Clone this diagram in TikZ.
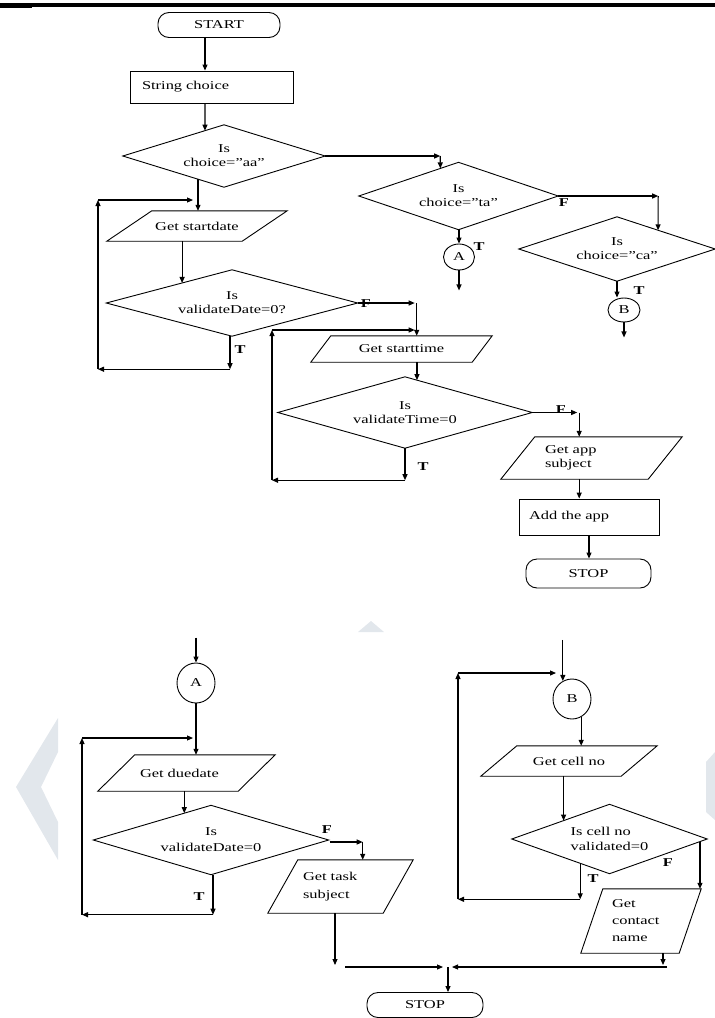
\documentclass[tikz,border=0pt]{standalone}
\usepackage{fontspec}
\setmainfont[FakeStretch=1.37]{Liberation Serif}
\usetikzlibrary{shapes.geometric,arrows.meta,calc}
\definecolor{wm}{RGB}{226,231,236}
\newcommand\drawpara[2]{\draw[line width=0.9pt] ([xshift=#2pt]#1.north west) -- (#1.north east) -- ([xshift=-#2pt]#1.south east) -- (#1.south west) -- cycle;}
\newcommand\drawdia[1]{\draw[line width=0.9pt] (#1.north) -- (#1.east) -- (#1.south) -- (#1.west) -- cycle;}
\begin{document}
\begin{tikzpicture}[x=1pt,y=-1pt,
  every node/.style={font=\fontsize{12}{14}\selectfont},
  base/.style={draw, line width=0.9pt, inner sep=0pt},
  dia/.style={rectangle, inner sep=0pt, align=center},
  term/.style={base, rectangle, rounded corners=11pt},
  proc/.style={base, rectangle},
  ell/.style={base, ellipse},
  iobox/.style={rectangle, inner sep=0pt},
  arr/.style={-{Triangle[length=6pt,width=5pt]}, line width=1.1pt},
  lab/.style={font=\fontsize{12}{14}\selectfont\bfseries, inner sep=0pt},
]
\useasboundingbox (0,0) rectangle (715,1018);

% watermark remnants
\fill[wm] (358,632) -- (371,621) -- (384,632) -- cycle;
\fill[wm] (58,718) -- (16,787) -- (58,860) -- (58,822) -- (41,787) -- (58,752) -- cycle;
\fill[wm] (706,762) -- (715,752) -- (715,820) -- (706,812) -- cycle;

% header rule
\fill (0,3) rectangle (715,6.5);
\fill (0,3) rectangle (32,7.5);

% ---------- top flow ----------
\node[term, minimum width=122pt, minimum height=25pt] (start) at (219,25) {START};
\node[proc, minimum width=163pt, minimum height=32pt, text width=139pt, inner xsep=12pt, align=left] (choice) at (211.5,87) {String choice};
\node[dia, minimum width=202pt, minimum height=62pt] (d1) at (224,156) {Is\\choice=''aa''};
\drawdia{d1}
\node[dia, minimum width=199pt, minimum height=67pt] (d2) at (458.5,196) {Is\\choice=''ta''};
\drawdia{d2}
\node[dia, minimum width=196pt, minimum height=64pt] (d3) at (617,249) {Is\\choice=''ca''};
\drawdia{d3}
\node[ell, minimum width=31pt, minimum height=26pt] (A1) at (459,257) {A};
\node[ell, minimum width=32pt, minimum height=24pt] (B1) at (624,310) {B};

\node[iobox, minimum width=180pt, minimum height=30pt] (p1) at (197,226) {Get startdate};
\drawpara{p1}{45}
\node[dia, minimum width=251pt, minimum height=66pt] (d4) at (232,303) {Is\\validateDate=0?};
\drawdia{d4}
\node[iobox, minimum width=181pt, minimum height=26pt] (p2) at (401.5,349) {Get starttime};
\drawpara{p2}{20}
\node[dia, minimum width=254pt, minimum height=71pt] (d5) at (405,412.5) {Is\\validateTime=0};
\drawdia{d5}
\node[iobox, minimum width=181pt, minimum height=42pt, text width=93pt, inner xsep=44pt, align=left] (p3) at (591.5,458) {Get app\\subject};
\drawpara{p3}{34}
\node[proc, minimum width=140pt, minimum height=36pt, text width=120pt, inner xsep=10pt, align=left] (add) at (589,517) {Add the app};
\node[term, minimum width=125pt, minimum height=29pt] (stop1) at (588.5,573.5) {STOP};

% connectors top
\draw[arr] ([xshift=-14pt]start.south) -- ([xshift=-6.5pt]choice.north);
\coordinate (c1) at ($(d1.north)!0.188!(d1.west)$);
\draw[arr] ([xshift=-6.5pt]choice.south) -- (c1);
\coordinate (k1) at ($(d1.east)+(115,0)$);
\draw[arr] (d1.east) -- (k1);
\coordinate (c2) at ($(d2.west)!0.818!(d2.north)$);
\draw[arr] (k1) -- (c2);
\coordinate (k2) at ($(d2.east)+(100,0)$);
\draw[arr] (d2.east) -- (k2);
\coordinate (c3) at ($(d3.north)!0.418!(d3.east)$);
\draw[arr] (k2) -- (c3);
\node[lab] (f1) at (564,203) {F};
\draw[arr] (A1.north |- d2.south) -- (A1.north);
\node[lab] (t1) at (479,247) {T};
\coordinate (ea) at ($(A1.south)+(0,20)$);
\draw[arr] (A1.south) -- (ea);
\draw[arr] (d3.south) -- (d3.south |- B1.north);
\node[lab] (t2) at (639,291) {T};
\coordinate (eb) at ($(B1.south)+(0,15)$);
\draw[arr] (B1.south) -- (eb);

\coordinate (c4) at ($(d1.west)!0.743!(d1.south)$);
\draw[arr] (c4) -- (c4 |- p1.north);
\coordinate (L1t) at (98,200);
\coordinate (L1r) at (193,200);
\coordinate (q4) at ($(d4.south)+(-2,33)$);
\draw[arr] (q4 |- d4.south) -- (q4);
\draw[arr] (q4) -- (L1t |- q4);
\draw[arr] (L1t |- q4) -- (L1t);
\draw[arr] (L1t) -- (L1r);
\node[lab] (t4) at (240,350) {T};
\coordinate (c5) at ($(d4.west)!0.603!(d4.north)$);
\draw[arr] (c5 |- p1.south) -- (c5);

\node[lab] (f2) at (366,304) {F};
\coordinate (k4) at ($(d4.east)+(57,0)$);
\draw[arr] (d4.east) -- (k4);
\coordinate (k5) at ($(k4)+(2,0)$);
\draw[arr] (k5) -- (k5 |- p2.north);
\coordinate (L2t) at (272,330);
\draw[arr] (L2t) -- (L2t -| k4);
\coordinate (q5) at ($(d5.south)+(0,32)$);
\draw[arr] (d5.south) -- (q5);
\draw[arr] (q5) -- (L2t |- q5);
\draw[arr] (L2t |- q5) -- (L2t);
\coordinate (c6) at ($(d5.north)!0.094!(d5.east)$);
\draw[arr] (c6 |- p2.south) -- (c6);
\node[lab] (t5) at (423,467) {T};
\node[lab] (f3) at (561,410) {F};
\coordinate (k6) at ($(d5.east)+(45,0)$);
\draw[arr] (d5.east) -- (k6);
\coordinate (k7) at ($(k6)+(2,0)$);
\draw[arr] (k7) -- (k7 |- p3.north);
\draw[arr] (k7 |- p3.south) -- (k7 |- add.north);
\draw[arr] (add.south) -- (add.south |- stop1.north);

% ---------- bottom left (A) ----------
\node[ell, minimum width=38pt, minimum height=40pt] (A2) at (196,683) {A};
\node[iobox, minimum width=177pt, minimum height=36pt, text width=93pt, inner xsep=42pt, align=left] (p4) at (186.5,773) {Get duedate};
\drawpara{p4}{37}
\node[dia, minimum width=235pt, minimum height=69pt] (d6) at (211,840) {Is\\[2pt]validateDate=0};
\drawdia{d6}
\node[iobox, minimum width=145pt, minimum height=53pt, text width=75pt, inner xsep=35pt, align=left] (p5) at (340.5,886.5) {Get task\\[4pt]subject};
\drawpara{p5}{30}
\node[term, minimum width=116pt, minimum height=25pt] (stop2) at (425,1005) {STOP};

\coordinate (ea2) at ($(A2.north)+(0,-25)$);
\draw[arr] (ea2) -- (A2.north);
\draw[arr] (A2.south) -- (A2.south |- p4.north);
\coordinate (L3t) at (82,738);
\coordinate (L3r) at (193,738);
\coordinate (c7) at ($(d6.west)!0.773!(d6.north)$);
\draw[arr] (c7 |- p4.south) -- (c7);
\coordinate (q6) at ($(d6.south)+(2,40)$);
\draw[arr] (q6 |- d6.south) -- (q6);
\draw[arr] (q6) -- (L3t |- q6);
\draw[arr] (L3t |- q6) -- (L3t);
\draw[arr] (L3t) -- (L3r);
\node[lab] (t6) at (199,897) {T};
\node[lab] (f4) at (327,830) {F};
\coordinate (k8) at ($(d6.east)+(34,2)$);
\coordinate (k8s) at ($(d6.east)+(1,2)$);
\draw[arr] (k8s) -- (k8);
\draw[arr] (k8) -- (k8 |- p5.north);
\coordinate (m1) at (335,965);
\draw[arr] (m1 |- p5.south) -- (m1);
\coordinate (m2) at (345,967);
\coordinate (ml) at (443,967);
\coordinate (mr) at (452,967);
\coordinate (mx) at (667,967);
\coordinate (mc) at (448,967);
\draw[arr] (m2) -- (ml);
\draw[arr] (mx) -- (mr);
\draw[arr] (mc) -- (mc |- stop2.north);

% ---------- bottom right (B) ----------
\node[ell, minimum width=38pt, minimum height=40pt] (B2) at (572,699) {B};
\node[iobox, minimum width=176pt, minimum height=30pt] (p6) at (569,761) {Get cell no};
\drawpara{p6}{36}
\node[dia, minimum width=195pt, minimum height=69pt, align=left] (d7) at (609.5,839) {Is cell no\\[1pt]validated=0};
\drawdia{d7}
\node[iobox, minimum width=120pt, minimum height=64pt, text width=58pt, inner xsep=31pt, align=left] (p7) at (641,921) {Get\\[3pt]contact\\[3pt]name};
\drawpara{p7}{22}

\coordinate (eb2) at ($(B2.117)+(0,-41)$);
\draw[arr] (eb2) -- (B2.117);
\coordinate (L4t) at (458,673);
\coordinate (L4r) at (556,673);
\draw[arr] (B2.-63) -- (B2.-63 |- p6.north);
\coordinate (c8) at ($(d7.west)!0.53!(d7.north)$);
\draw[arr] (c8 |- p6.south) -- (c8);
\coordinate (c9) at ($(d7.west)!0.7!(d7.south)$);
\coordinate (q7) at ($(c9)+(0,36)$);
\draw[arr] (c9) -- (q7);
\draw[arr] (q7) -- (L4t |- q7);
\draw[arr] (L4t |- q7) -- (L4t);
\draw[arr] (L4t) -- (L4r);
\node[lab] (t7) at (593,879) {T};
\coordinate (c10) at ($(d7.east)!0.074!(d7.south)$);
\draw[arr] (c10) -- (c10 |- p7.north);
\node[lab] (f5) at (668,863) {F};
\coordinate (m3) at (663,965);
\draw[arr] (m3 |- p7.south) -- (m3);
\end{tikzpicture}
\end{document}
